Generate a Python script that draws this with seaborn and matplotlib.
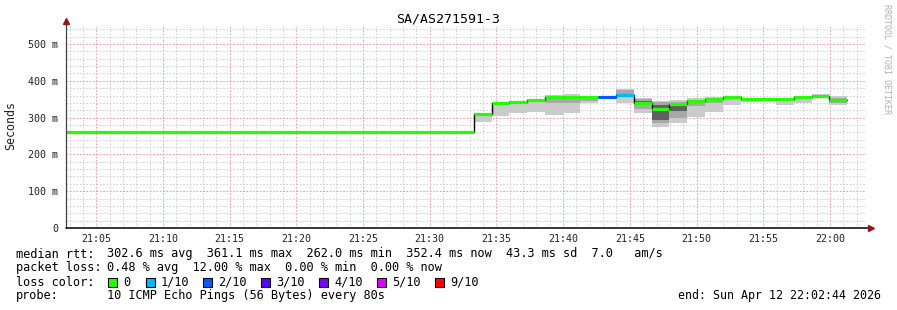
import matplotlib
matplotlib.use("Agg")
import matplotlib.pyplot as plt
import matplotlib.dates as mdates
import seaborn as sns
import pandas as pd
import numpy as np
from matplotlib.patches import Rectangle

# ---------------- data ----------------
title = "SA/AS271591-3"
sample_times = ["21:02:44", "21:33:18", "21:34:38", "21:35:58", "21:37:18", "21:38:38",
                "21:39:58", "21:41:18", "21:42:38", "21:43:58", "21:45:18", "21:46:38",
                "21:47:58", "21:49:18", "21:50:38", "21:51:58", "21:53:18", "21:54:38",
                "21:55:58", "21:57:18", "21:58:38", "21:59:58"]
data_end = "22:01:18"
window_start = "21:02:44"
window_end = "22:02:44"

median_ms = [262, 310, 339, 342, 349, 357, 357, 357, 357, 362, 339, 324,
             336, 346, 351, 357, 350, 350, 350, 355, 359, 348]
loss_count = [0, 0, 0, 0, 0, 0, 0, 0, 2, 1, 0, 0, 0, 0, 0, 0, 0, 0, 0, 0, 0, 0]

smoke_lo = [262, 287, 304, 313, 316, 307, 313, 339, 355, 340, 313, 275,
            286, 302, 316, 334, 343, 345, 334, 340, 352, 334]
smoke_hi = [262, 312, 341, 344, 350, 361, 363, 358, 358, 378, 352, 346,
            348, 352, 355, 360, 352, 352, 351, 359, 364, 359]
mid_lo = [262, 310, 339, 342, 349, 339, 339, 345, 357, 355, 322, 285,
          300, 332, 340, 357, 350, 350, 350, 355, 359, 340]
mid_hi = [262, 310, 339, 342, 349, 354, 353, 356, 357, 375, 350, 342,
          343, 348, 352, 357, 350, 350, 350, 355, 359, 352]
inner_lo = [262, 310, 339, 342, 349, 357, 357, 357, 357, 362, 334, 293,
            318, 346, 351, 357, 350, 350, 350, 355, 359, 348]
inner_hi = [262, 310, 339, 342, 349, 357, 357, 357, 357, 362, 346, 335,
            332, 346, 351, 357, 350, 350, 350, 355, 359, 348]

y_ticks = [0, 100, 200, 300, 400, 500]
y_tick_labels = ["0", "100 m", "200 m", "300 m", "400 m", "500 m"]
y_label = "Seconds"

loss_labels = ["0", "1/10", "2/10", "3/10", "4/10", "5/10", "9/10"]
loss_colors = ["#26ff00", "#00b8ff", "#0059ff", "#5e00ff", "#7e00ff", "#dd00ff", "#ff0000"]
loss_color_by_count = {0: "#26ff00", 1: "#00b8ff", 2: "#0059ff", 3: "#5e00ff",
                       4: "#7e00ff", 5: "#dd00ff", 9: "#ff0000"}

legend_rows = [("median rtt:", "302.6 ms avg  361.1 ms max  262.0 ms min  352.4 ms now  43.3 ms sd  7.0   am/s"),
               ("packet loss:", "0.48 % avg  12.00 % max  0.00 % min  0.00 % now"),
               ("loss color:", None),
               ("probe:", "10 ICMP Echo Pings (56 Bytes) every 80s")]
end_text = "end: Sun Apr 12 22:02:44 2026"
watermark = "RRDTOOL / TOBI OETIKER"

# ---------------- figure ----------------
sns.set_theme(style="white")
plt.rcParams["font.family"] = ["DejaVu Sans Mono", "DejaVu Sans"]

W, H = 897, 310
fig = plt.figure(figsize=(W / 100, H / 100), dpi=100)
fig.patch.set_facecolor("white")

def fx(px):
    return px / W

def fy(py):
    return 1 - py / H

ax_left, ax_right, ax_top, ax_bot = 66, 866.4, 25, 228
ax = fig.add_axes([fx(ax_left), fy(ax_bot), (ax_right - ax_left) / W, (ax_bot - ax_top) / H])
ax.set_facecolor("white")

day = "2026-04-12 "
t = pd.to_datetime([day + s for s in sample_times])
t_end = pd.to_datetime(day + data_end)
t_ext = list(t) + [t_end]

def ext(a):
    return list(a) + [a[-1]]

# grid
ymax = 551.6
ax.set_ylim(0, ymax)
ax.set_xlim(pd.to_datetime(day + window_start), pd.to_datetime(day + window_end))
ax.xaxis.set_major_locator(mdates.MinuteLocator(byminute=range(0, 60, 5)))
ax.xaxis.set_minor_locator(mdates.MinuteLocator())
ax.xaxis.set_major_formatter(mdates.DateFormatter("%H:%M"))
ax.set_yticks(y_ticks)
ax.set_yticklabels(y_tick_labels)
ax.set_yticks(np.arange(0, 560, 20), minor=True)
ax.grid(which="minor", color="#d2d2d2", linestyle=(0, (1.6, 1.6)), linewidth=0.75)
ax.grid(which="major", color="#f2a0a0", linestyle=(0, (1.6, 1.6)), linewidth=0.75)
ax.set_axisbelow(True)

# smoke
ax.fill_between(t_ext, ext(smoke_lo), ext(smoke_hi), step="post", color="#cbcbcb", lw=0, zorder=2)
ax.fill_between(t_ext, ext(mid_lo), ext(mid_hi), step="post", color="#a8a8a8", lw=0, zorder=3)
ax.fill_between(t_ext, ext(inner_lo), ext(inner_hi), step="post", color="#606060", lw=0, zorder=4)

# median black step line
df = pd.DataFrame({"time": t_ext, "median": ext(median_ms)})
sns.lineplot(data=df, x="time", y="median", drawstyle="steps-post", color="black",
             lw=1.0, ax=ax, zorder=5, sort=False)
# loss-coloured median
seg_end = list(t[1:]) + [t_end]
ax.hlines(median_ms, t, seg_end, colors=[loss_color_by_count[c] for c in loss_count],
          lw=2.3, zorder=6)

for s in ax.spines.values():
    s.set_visible(False)

# axes lines with arrows
ax.plot([0, 0], [0, 1.012], transform=ax.transAxes, color="#404040", lw=0.9, clip_on=False, zorder=7)
ax.plot([0, 1.0045], [0, 0], transform=ax.transAxes, color="black", lw=1.1, clip_on=False, zorder=7)
ax.plot([0], [1.02], transform=ax.transAxes, marker="^", color="#8b1a1a", ms=4.5, clip_on=False, zorder=8)
ax.plot([1.006], [0], transform=ax.transAxes, marker=">", color="#8b1a1a", ms=4.5, clip_on=False, zorder=8)

ax.tick_params(axis="both", which="both", length=0, labelsize=7.2, colors="#222222")
ax.tick_params(axis="y", pad=5.5)
ax.tick_params(axis="x", pad=4)
ax.set_xlabel("")
ax.set_ylabel("")
for lab in ax.get_xticklabels() + ax.get_yticklabels():
    lab.set_family("DejaVu Sans Mono")

fig.text(fx(11), fy(126), y_label, rotation=90, ha="center", va="center",
         fontsize=8.4, family="DejaVu Sans Mono", color="#222222")

fig.text(0.5, fy(19), title, ha="center", va="center", fontsize=9.5,
         family="DejaVu Sans Mono", color="black")
fig.text(fx(887), fy(59), watermark, rotation=270, ha="center", va="center",
         fontsize=6.0, family="DejaVu Sans Mono", color="#b0b0b0")

# legend
row_y = [254, 268, 282, 296]
fs = 8.55
for (lab, val), yy in zip(legend_rows, row_y):
    fig.text(fx(16), fy(yy), lab, ha="left", va="center", fontsize=fs,
             family="DejaVu Sans Mono", color="black")
    if val is not None:
        fig.text(fx(107), fy(yy), val, ha="left", va="center", fontsize=fs,
                 family="DejaVu Sans Mono", color="black")

box_x = [108, 146, 203, 261, 319, 377, 435]
for bx, lab, col in zip(box_x, loss_labels, loss_colors):
    fig.patches.append(Rectangle((fx(bx), fy(286.5)), 8.5 / W, 8.5 / H, transform=fig.transFigure,
                                 facecolor=col, edgecolor="black", lw=0.8))
    fig.text(fx(bx + 15), fy(282), lab, ha="left", va="center", fontsize=fs,
             family="DejaVu Sans Mono", color="black")

fig.text(fx(881), fy(296), end_text, ha="right", va="center", fontsize=8.4,
         family="DejaVu Sans Mono", color="black")

fig.savefig("out.png", dpi=100, facecolor="white")
